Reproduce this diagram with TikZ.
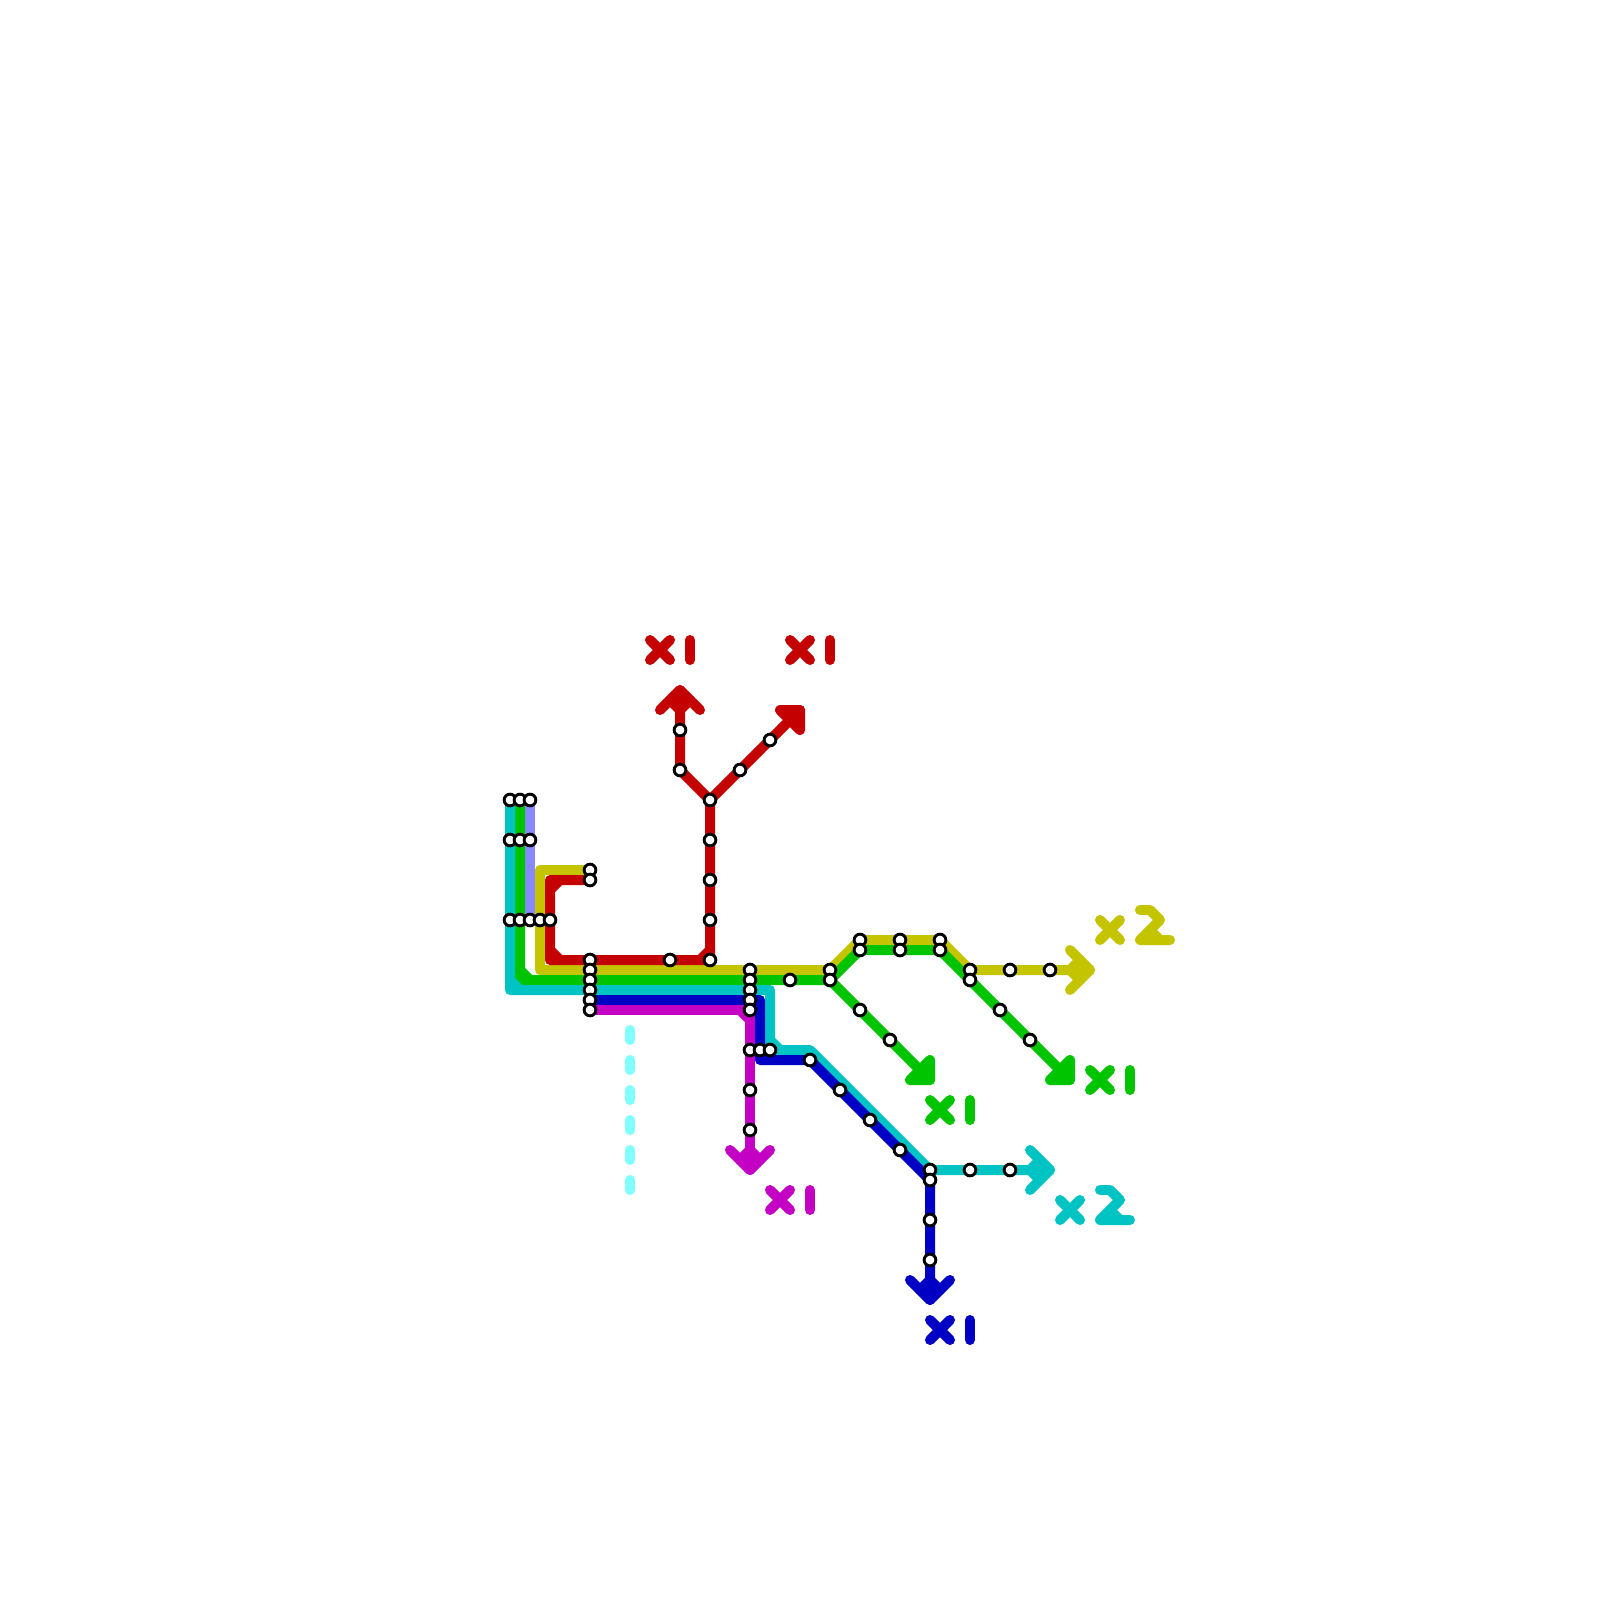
\documentclass[tikz,border=0pt]{standalone}
\definecolor{mred}{HTML}{C40000}
\definecolor{myellow}{HTML}{C4C400}
\definecolor{mgreen}{HTML}{00C400}
\definecolor{mcyan}{HTML}{00C4C4}
\definecolor{mblue}{HTML}{0000C4}
\definecolor{mmagenta}{HTML}{C400C4}
\definecolor{mpurple}{HTML}{8888FF}
\definecolor{mpale}{HTML}{80FFFF}
\tikzset{
  metroline/.style={line width=10pt,line join=round,line cap=round},
  plannedline/.style={line width=10pt,line cap=round,dash pattern=on 10pt off 20pt},
  stationdot/.style={circle,draw=black,fill=white,line width=2.9pt,minimum size=11.7pt,inner sep=0pt},
}
\newcommand{\multmark}[3]{\draw[metroline,#1,shift={(#2,#3)}] (-10,-10)--(10,10) (-10,10)--(10,-10);}
\newcommand{\onemark}[3]{\draw[metroline,#1,shift={(#2,#3)}] (30,-10)--(30,10);}
\newcommand{\twomark}[3]{\draw[metroline,#1,shift={(#2,#3)}] (30,-20)--(40,-20)--(50,-10)--(30,10)--(60,10) (40,0)--(50,10);}
\begin{document}
\begin{tikzpicture}[x=1pt,y=-1pt]
\useasboundingbox[fill=white] (0,0) rectangle (1600,1600);
% stations' and bends' positions
\foreach \px/\py in {510/800,520/800,530/800,510/840,520/840,530/840,510/920,520/920,530/920,540/920,550/920,
590/870,590/880,590/960,590/970,590/980,590/990,590/1000,590/1010,
670/960,710/960,710/920,710/880,710/840,710/800,680/770,680/730,740/770,770/740,
750/970,750/980,750/990,750/1000,750/1010,790/980,
830/970,830/980,860/940,860/950,900/940,900/950,940/940,940/950,970/970,970/980,1010/970,1050/970,
860/1010,890/1040,1000/1010,1030/1040,
750/1050,760/1050,770/1050,750/1090,750/1130,
810/1060,840/1090,870/1120,900/1150,930/1170,930/1180,930/1220,930/1260,970/1170,1010/1170,
540/870,540/970,1090/970,1070/950,1070/990,1080/960,1070/970,1080/980,
520/980,520/970,530/980,1070/1080,1050/1080,1070/1060,930/1080,910/1080,930/1060,
510/990,510/980,520/990,770/990,770/1040,780/1050,810/1050,1050/1170,1030/1150,1030/1190,1040/1160,1030/1170,1040/1180,
760/1000,760/1060,930/1300,910/1280,950/1280,920/1290,930/1280,940/1290,
750/1020,740/1010,750/1170,730/1150,770/1150,740/1160,750/1150,760/1160,
550/880,550/890,560/880,550/960,550/950,560/960,700/960,710/950,680/690,660/710,700/710,670/700,680/710,690/700,800/710,780/710,800/730,
630/1030,630/1190}
  \coordinate (P\px-\py) at (\px,\py);
% planned line
\draw[plannedline,mpale] (P630-1030) -- (P630-1190);
% purple
\draw[metroline,mpurple] (P530-800) -- (P530-920);
% yellow
\draw[metroline,myellow] (P590-870) -- (P540-870) -- (P540-970) -- (P830-970) -- (P860-940) -- (P940-940) -- (P970-970) -- (P1090-970);
\draw[metroline,myellow] (P1070-950) -- (P1090-970) -- (P1070-990);
\draw[metroline,myellow] (P1080-960) -- (P1070-970) -- (P1080-980);
% green
\draw[metroline,mgreen] (P520-800) -- (P520-980) -- (P830-980) -- (P860-950) -- (P940-950) -- (P1070-1080);
\draw[metroline,mgreen] (P520-970) -- (P530-980);
\draw[metroline,mgreen,fill=mgreen] (P1050-1080) -- (P1070-1080) -- (P1070-1060) -- cycle;
\draw[metroline,mgreen] (P830-980) -- (P930-1080);
\draw[metroline,mgreen,fill=mgreen] (P910-1080) -- (P930-1080) -- (P930-1060) -- cycle;
% cyan
\draw[metroline,mcyan] (P510-800) -- (P510-990) -- (P770-990) -- (P770-1050) -- (P810-1050) -- (P930-1170) -- (P1050-1170);
\draw[metroline,mcyan] (P510-980) -- (P520-990);
\draw[metroline,mcyan] (P770-1040) -- (P780-1050);
\draw[metroline,mcyan] (P1030-1150) -- (P1050-1170) -- (P1030-1190);
\draw[metroline,mcyan] (P1040-1160) -- (P1030-1170) -- (P1040-1180);
% blue
\draw[metroline,mblue] (P590-1000) -- (P760-1000) -- (P760-1060) -- (P810-1060) -- (P930-1180) -- (P930-1300);
\draw[metroline,mblue] (P910-1280) -- (P930-1300) -- (P950-1280);
\draw[metroline,mblue] (P920-1290) -- (P930-1280) -- (P940-1290);
% magenta
\draw[metroline,mmagenta] (P590-1010) -- (P750-1010) -- (P750-1170);
\draw[metroline,mmagenta] (P740-1010) -- (P750-1020);
\draw[metroline,mmagenta] (P730-1150) -- (P750-1170) -- (P770-1150);
\draw[metroline,mmagenta] (P740-1160) -- (P750-1150) -- (P760-1160);
% red
\draw[metroline,mred] (P590-880) -- (P550-880) -- (P550-960) -- (P710-960) -- (P710-800) -- (P680-770) -- (P680-690);
\draw[metroline,mred] (P550-890) -- (P560-880);
\draw[metroline,mred] (P550-950) -- (P560-960);
\draw[metroline,mred] (P700-960) -- (P710-950);
\draw[metroline,mred] (P660-710) -- (P680-690) -- (P700-710);
\draw[metroline,mred] (P670-700) -- (P680-710) -- (P690-700);
\draw[metroline,mred] (P710-800) -- (P800-710);
\draw[metroline,mred,fill=mred] (P780-710) -- (P800-710) -- (P800-730) -- cycle;
% multiplicity marks
\multmark{mred}{660}{650}\onemark{mred}{660}{650}
\multmark{mred}{800}{650}\onemark{mred}{800}{650}
\multmark{mgreen}{940}{1110}\onemark{mgreen}{940}{1110}
\multmark{mgreen}{1100}{1080}\onemark{mgreen}{1100}{1080}
\multmark{myellow}{1110}{930}\twomark{myellow}{1110}{930}
\multmark{mcyan}{1070}{1210}\twomark{mcyan}{1070}{1210}
\multmark{mmagenta}{780}{1200}\onemark{mmagenta}{780}{1200}
\multmark{mblue}{940}{1330}\onemark{mblue}{940}{1330}
% stations
\foreach \px/\py in {510/800,520/800,530/800,510/840,520/840,530/840,510/920,520/920,530/920,540/920,550/920,
590/870,590/880,590/960,590/970,590/980,590/990,590/1000,590/1010,
670/960,710/960,710/920,710/880,710/840,710/800,680/770,680/730,740/770,770/740,
750/970,750/980,750/990,750/1000,750/1010,790/980,
830/970,830/980,860/940,860/950,900/940,900/950,940/940,940/950,970/970,970/980,1010/970,1050/970,
860/1010,890/1040,1000/1010,1030/1040,
750/1050,760/1050,770/1050,750/1090,750/1130,
810/1060,840/1090,870/1120,900/1150,930/1170,930/1180,930/1220,930/1260,970/1170,1010/1170}
  \node[stationdot] (S\px-\py) at (P\px-\py) {};
\end{tikzpicture}
\end{document}
